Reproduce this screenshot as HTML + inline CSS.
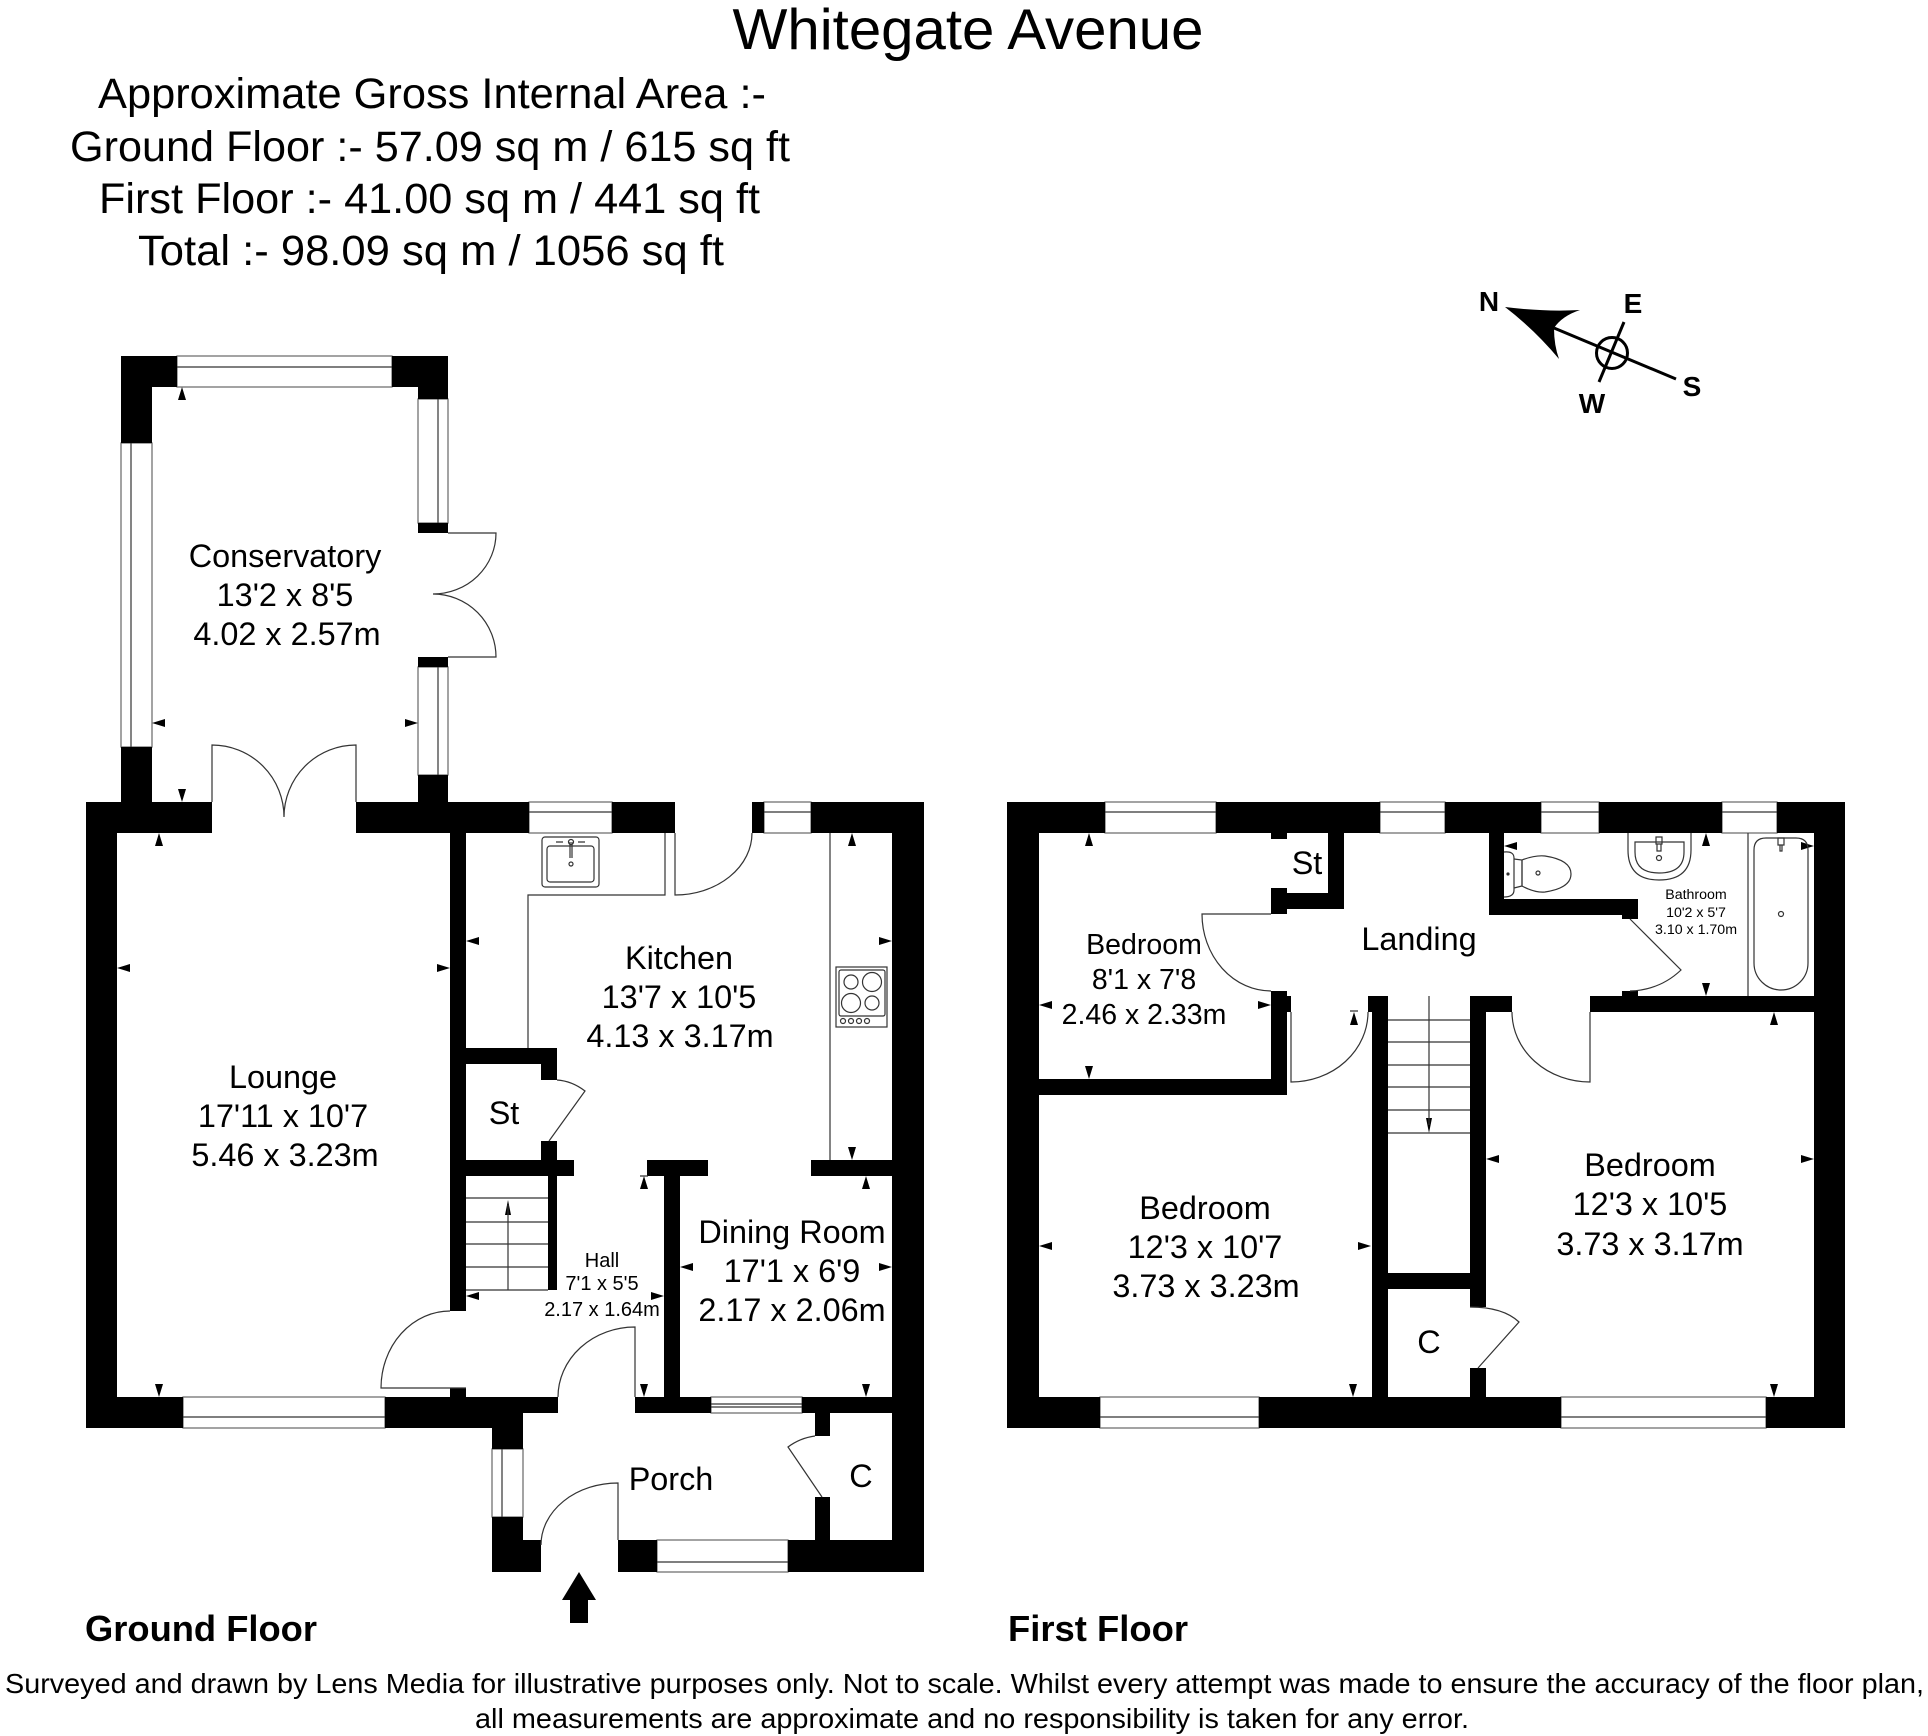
<!DOCTYPE html>
<html><head><meta charset="utf-8"><style>html,body{margin:0;padding:0;background:#fff}svg{display:block}text{font-family:"Liberation Sans",Arial,sans-serif;fill:#000}</style></head><body>
<svg width="1928" height="1736" viewBox="0 0 1928 1736" xmlns="http://www.w3.org/2000/svg">
<rect width="1928" height="1736" fill="#fff"/>
<g fill="none" stroke="#666" stroke-width="1.2">
<rect x="177" y="356" width="215" height="31"/><rect x="121" y="443" width="31" height="304"/><rect x="418" y="399" width="30" height="124"/><rect x="418" y="667" width="30" height="108"/>
<rect x="183" y="1397" width="202" height="31"/><rect x="529" y="802" width="83" height="31"/><rect x="764" y="802" width="47" height="31"/><rect x="711" y="1397" width="91" height="16"/><rect x="492" y="1449" width="31" height="68"/><rect x="657" y="1540" width="131" height="32"/>
<rect x="1105" y="802" width="111" height="31"/><rect x="1380" y="802" width="65" height="31"/><rect x="1541" y="802" width="58" height="31"/><rect x="1722" y="802" width="55" height="31"/><rect x="1100" y="1397" width="159" height="31"/><rect x="1561" y="1397" width="205" height="31"/>
<path d="M177 367H392M131 443V747M438 399V523M438 667V775M183 1417H385M529 812H612M764 812H811M711 1404H802M711 1407H802M502 1449V1517M657 1562H788M1105 812H1216M1380 812H1445M1541 812H1599M1722 812H1777M1100 1417H1259M1561 1417H1766" stroke="#333"/>
</g>
<g fill="#000">
<rect x="121" y="356" width="56" height="31"/><rect x="121" y="356" width="31" height="87"/><rect x="392" y="356" width="56" height="31"/><rect x="418" y="356" width="30" height="43"/><rect x="418" y="523" width="30" height="10"/><rect x="418" y="657" width="30" height="10"/><rect x="418" y="775" width="30" height="30"/><rect x="121" y="747" width="31" height="58"/>
<rect x="86" y="802" width="126" height="31"/><rect x="356" y="802" width="173" height="31"/><rect x="612" y="802" width="63" height="31"/><rect x="752" y="802" width="12" height="31"/><rect x="811" y="802" width="113" height="31"/>
<rect x="86" y="802" width="31" height="626"/><rect x="892" y="802" width="32" height="770"/><rect x="86" y="1397" width="97" height="31"/><rect x="385" y="1397" width="107" height="31"/><rect x="492" y="1397" width="66" height="16"/><rect x="450" y="1388" width="16" height="9"/>
<rect x="450" y="833" width="16" height="478"/><rect x="466" y="1048" width="91" height="16"/><rect x="541" y="1048" width="16" height="32"/><rect x="541" y="1141" width="16" height="19"/><rect x="466" y="1160" width="108" height="16"/><rect x="548" y="1176" width="9" height="114"/>
<rect x="647" y="1160" width="61" height="16"/><rect x="664" y="1176" width="16" height="221"/><rect x="635" y="1397" width="76" height="16"/><rect x="802" y="1397" width="90" height="16"/><rect x="811" y="1160" width="81" height="16"/>
<rect x="815" y="1413" width="15" height="23"/><rect x="815" y="1497" width="15" height="43"/><rect x="492" y="1397" width="31" height="52"/><rect x="492" y="1517" width="31" height="55"/><rect x="523" y="1540" width="18" height="32"/><rect x="618" y="1540" width="39" height="32"/><rect x="788" y="1540" width="136" height="32"/>
<rect x="1007" y="802" width="32" height="626"/><rect x="1007" y="1397" width="93" height="31"/><rect x="1259" y="1397" width="302" height="31"/><rect x="1766" y="1397" width="79" height="31"/><rect x="1814" y="802" width="31" height="626"/>
<rect x="1007" y="802" width="98" height="31"/><rect x="1216" y="802" width="164" height="31"/><rect x="1445" y="802" width="96" height="31"/><rect x="1599" y="802" width="123" height="31"/><rect x="1777" y="802" width="68" height="31"/>
<rect x="1039" y="1079" width="248" height="16"/><rect x="1271" y="991" width="16" height="104"/><rect x="1287" y="996" width="4" height="16"/><rect x="1271" y="888" width="16" height="26"/><rect x="1271" y="833" width="16" height="6"/><rect x="1287" y="893" width="57" height="16"/><rect x="1328" y="833" width="16" height="76"/>
<rect x="1368" y="996" width="20" height="16"/><rect x="1372" y="996" width="16" height="401"/><rect x="1470" y="996" width="42" height="16"/><rect x="1470" y="996" width="16" height="311"/><rect x="1470" y="1368" width="16" height="29"/><rect x="1388" y="1273" width="82" height="16"/><rect x="1590" y="996" width="224" height="16"/>
<rect x="1489" y="833" width="15" height="82"/><rect x="1489" y="899" width="149" height="16"/><rect x="1622" y="899" width="16" height="20"/><rect x="1622" y="991" width="16" height="5"/>
<path d="M579 1572L596 1600H588V1623H570V1600H562Z"/>
<path d="M182 387l-4 13h8zM182 802l-4-13h8zM152 723l13-4v8zM418 723l-13-4v8zM159 833l-4 13h8zM159 1397l-4-13h8zM117 968l13-4v8zM450 968l-13-4v8zM466 941l13-4v8zM892 941l-13-4v8zM852 833l-4 13h8zM852 1160l-4-13h8zM644 1176l-4 13h8zM644 1397l-4-13h8zM866 1176l-4 13h8zM866 1397l-4-13h8zM680 1267l13-4v8zM892 1267l-13-4v8zM466 1296l13-4v8zM664 1296l-13-4v8zM508 1200l-3 15h6z"/>
<path d="M1089 833l-4 13h8zM1089 1079l-4-13h8zM1039 1005l13-4v8zM1271 1005l-13-4v8zM1354 1012l-4 13h8zM1504 846l13-4v8zM1706 833l-4 13h8zM1706 996l-4-13h8zM1814 846l-13-4v8zM1774 1012l-4 13h8zM1486 1159l13-4v8zM1814 1159l-13-4v8zM1039 1246l13-4v8zM1371 1246l-13-4v8zM1353 1397l-4-13h8zM1774 1397l-4-13h8zM1429 1133l-3-15h6z"/>
<path d="M1505 307Q1545 312 1580 310Q1562 316 1554 328Q1554 345 1559 359Q1535 330 1505 307Z"/>
</g>
<g fill="none" stroke="#333" stroke-width="1.2">
<path d="M448 533H496A63 61 0 0 1 433 594M433 594A63 63 0 0 1 496 657H448"/>
<path d="M212 802V745A72 72 0 0 1 284 817M284 817A72 72 0 0 1 356 745V802"/>
<path d="M675 833V895A77 62 0 0 0 752 833"/>
<path d="M665 833V895H528V1048M830 833V1160"/>
<path d="M557 1080Q572 1081 585 1091L549 1141"/>
<path d="M466 1388H381A69 77 0 0 1 450 1311"/>
<path d="M558 1397A77 70 0 0 1 635 1327V1397"/>
<path d="M541 1545A77 62 0 0 1 618 1483V1540"/>
<path d="M815 1436Q800 1438 788 1447L822 1497"/>
<path d="M466 1198H548M466 1222H548M466 1244H548M466 1267H548M466 1290H548M508 1290V1205"/>
<path d="M1271 914H1202A69 77 0 0 0 1271 991"/>
<path d="M1291 1012V1082A77 70 0 0 0 1368 1012"/>
<path d="M1512 1012A78 70 0 0 0 1590 1082V1012"/>
<path d="M1630 919L1681 970Q1660 990 1630 991"/>
<path d="M1470 1307Q1503 1307 1519 1322L1478 1368"/>
<path d="M1388 1020H1470M1388 1042H1470M1388 1065H1470M1388 1087H1470M1388 1110H1470M1388 1133H1470M1429 996V1125"/>
<path d="M640 1176H648M1350 1011H1358M1748 833V996"/>
<!-- sink -->
<rect x="542" y="837" width="57" height="50" rx="3"/><rect x="547" y="846" width="47" height="36" rx="3"/><circle cx="571" cy="842" r="2.5"/><path d="M570 842V858M572 842V858M556 842h7M578 842h7"/><circle cx="571" cy="864" r="2"/>
<!-- hob -->
<rect x="836" y="967" width="51" height="60"/><rect x="839" y="970" width="46" height="46" rx="2"/><circle cx="851" cy="982" r="7"/><circle cx="872" cy="982" r="9.5"/><circle cx="851" cy="1003" r="9.5"/><circle cx="872" cy="1003" r="7"/><circle cx="843" cy="1021" r="2.5"/><circle cx="851" cy="1021" r="2.5"/><circle cx="859" cy="1021" r="2.5"/><circle cx="867" cy="1021" r="2.5"/>
<!-- bath -->
<path d="M1754 850Q1754 838 1766 838H1796Q1808 838 1808 850V963A27 27 0 0 1 1754 963Z"/><circle cx="1781" cy="914" r="2.5"/><path d="M1778 838h6v7h-6zM1780 845v6h2v-6"/>
<!-- basin -->
<path d="M1628 833V850Q1628 880 1659 880Q1691 880 1691 850V833"/><path d="M1635 842H1684V852Q1684 873 1659 873Q1635 873 1635 852Z"/><circle cx="1659" cy="858" r="2.5"/><path d="M1656 837h6v7h-6zM1657 844v7h4v-7"/>
<!-- wc -->
<path d="M1504 852Q1514 851 1514 858V890Q1514 897 1504 897"/><path d="M1514 859L1522 860V886L1514 888"/><path d="M1522 860Q1535 855 1545 856Q1571 860 1571 874Q1571 888 1545 892Q1535 893 1522 886Z"/><circle cx="1538" cy="873" r="2"/><circle cx="1508" cy="874" r="1" fill="#000"/>
</g>
<g fill="none" stroke="#000" stroke-width="3">
<path d="M1554 328L1676 379M1624 322L1599 382"/><circle cx="1612" cy="353" r="15.5"/>
</g>
<text x="968" y="49" font-size="57.6" text-anchor="middle" textLength="471" lengthAdjust="spacingAndGlyphs">Whitegate Avenue</text>
<g font-size="43">
<text x="98" y="108" textLength="668" lengthAdjust="spacingAndGlyphs">Approximate Gross Internal Area :-</text>
<text x="70" y="161" textLength="720" lengthAdjust="spacingAndGlyphs">Ground Floor :- 57.09 sq m / 615 sq ft</text>
<text x="99" y="213" textLength="661" lengthAdjust="spacingAndGlyphs">First Floor :- 41.00 sq m / 441 sq ft</text>
<text x="138" y="265" textLength="586" lengthAdjust="spacingAndGlyphs">Total :- 98.09 sq m / 1056 sq ft</text>
</g>
<g font-size="32.4" text-anchor="middle">
<text x="285" y="567">Conservatory</text><text x="285" y="606">13'2 x 8'5</text><text x="287" y="645">4.02 x 2.57m</text>
<text x="283" y="1088">Lounge</text><text x="283" y="1127">17'11 x 10'7</text><text x="285" y="1166">5.46 x 3.23m</text>
<text x="679" y="969">Kitchen</text><text x="679" y="1008">13'7 x 10'5</text><text x="680" y="1047">4.13 x 3.17m</text>
<text x="792" y="1243">Dining Room</text><text x="792" y="1282">17'1 x 6'9</text><text x="792" y="1321">2.17 x 2.06m</text>
<text x="504" y="1124">St</text><text x="671" y="1490">Porch</text><text x="861" y="1487">C</text>
<text x="1307" y="874">St</text><text x="1419" y="950">Landing</text><text x="1429" y="1353">C</text>
<text x="1205" y="1219">Bedroom</text><text x="1205" y="1258">12'3 x 10'7</text><text x="1206" y="1297">3.73 x 3.23m</text>
<text x="1650" y="1176">Bedroom</text><text x="1650" y="1215">12'3 x 10'5</text><text x="1650" y="1255">3.73 x 3.17m</text>
</g>
<g font-size="28.5" text-anchor="middle"><text x="1144" y="954">Bedroom</text><text x="1144" y="989">8'1 x 7'8</text><text x="1144" y="1024">2.46 x 2.33m</text></g>
<g font-size="20" text-anchor="middle"><text x="602" y="1267">Hall</text><text x="602" y="1290">7'1 x 5'5</text><text x="602" y="1316">2.17 x 1.64m</text></g>
<g font-size="14.2" text-anchor="middle"><text x="1696" y="899">Bathroom</text><text x="1696" y="917">10'2 x 5'7</text><text x="1696" y="934">3.10 x 1.70m</text></g>
<g font-size="28" font-weight="bold" text-anchor="middle"><text x="1489" y="311">N</text><text x="1633" y="313">E</text><text x="1592" y="413">W</text><text x="1692" y="396">S</text></g>
<g font-size="36" font-weight="bold"><text x="85" y="1641" textLength="232" lengthAdjust="spacingAndGlyphs">Ground Floor</text><text x="1008" y="1641" textLength="180" lengthAdjust="spacingAndGlyphs">First Floor</text></g>
<g font-size="27.5">
<text x="5" y="1693" textLength="1919" lengthAdjust="spacingAndGlyphs">Surveyed and drawn by Lens Media for illustrative purposes only. Not to scale. Whilst every attempt was made to ensure the accuracy of the floor plan,</text>
<text x="475" y="1728" textLength="994" lengthAdjust="spacingAndGlyphs">all measurements are approximate and no responsibility is taken for any error.</text>
</g>
</svg>
</body></html>
